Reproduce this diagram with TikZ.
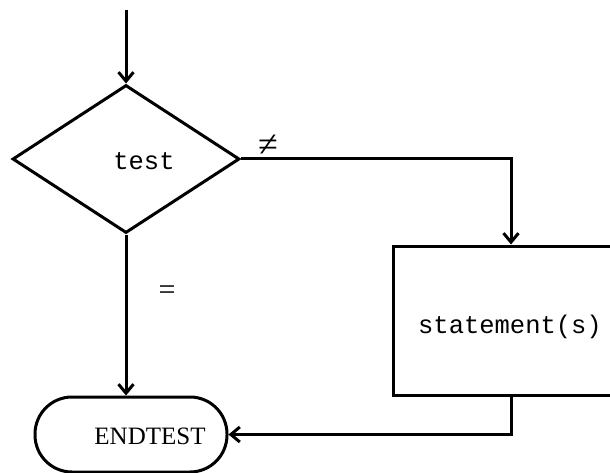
\documentclass[tikz,border=0pt]{standalone}
\usepackage{fontspec}
\setmainfont{Liberation Serif}
\setmonofont{Liberation Mono}
\usetikzlibrary{shapes.geometric,arrows.meta}
\begin{document}
\begin{tikzpicture}[x=1pt,y=-1pt,line width=3pt,
  flow/.style={-{Straight Barb[length=9pt,width=15pt,line width=3pt]}},
  shape line/.style={draw,line width=3pt},
  mono/.style={font=\fontsize{25.5}{28}\selectfont\ttfamily},
  serif/.style={font=\fontsize{25}{28}\selectfont}]
\useasboundingbox (0,0) rectangle (610,473);
\clip (0,0) rectangle (610,473);
\node[shape line,diamond,minimum width=227pt,minimum height=148pt,inner sep=0pt] (d) at (126,159) {};
\node[mono,anchor=base] (dt) at (144,170) {test};
\node[shape line,rectangle,minimum width=236pt,minimum height=149pt,inner sep=0pt] (b) at (511,320.5) {};
\node[mono,anchor=base] (bt) at (510,333) {statement(s)};
\node[shape line,rectangle,rounded corners=37pt,minimum width=192pt,minimum height=75pt,inner sep=0pt] (e) at (131,434.5) {};
\node[serif,anchor=base] (et) at (150,444) {ENDTEST};
\coordinate (s) at (126,10);
\draw[flow] (s) -- (d.north);
\draw[flow] (d.east) -| (b.north);
\draw[flow] (d.south) -- (d.south |- e.north);
\draw[flow] (b.south) |- (e.east);
\node[font=\fontsize{36}{38}\selectfont,inner sep=0pt] (ne) at (268,146) {≠};
\node[font=\fontsize{30}{32}\selectfont,inner sep=0pt] (eq) at (167,293) {=};
\end{tikzpicture}
\end{document}
